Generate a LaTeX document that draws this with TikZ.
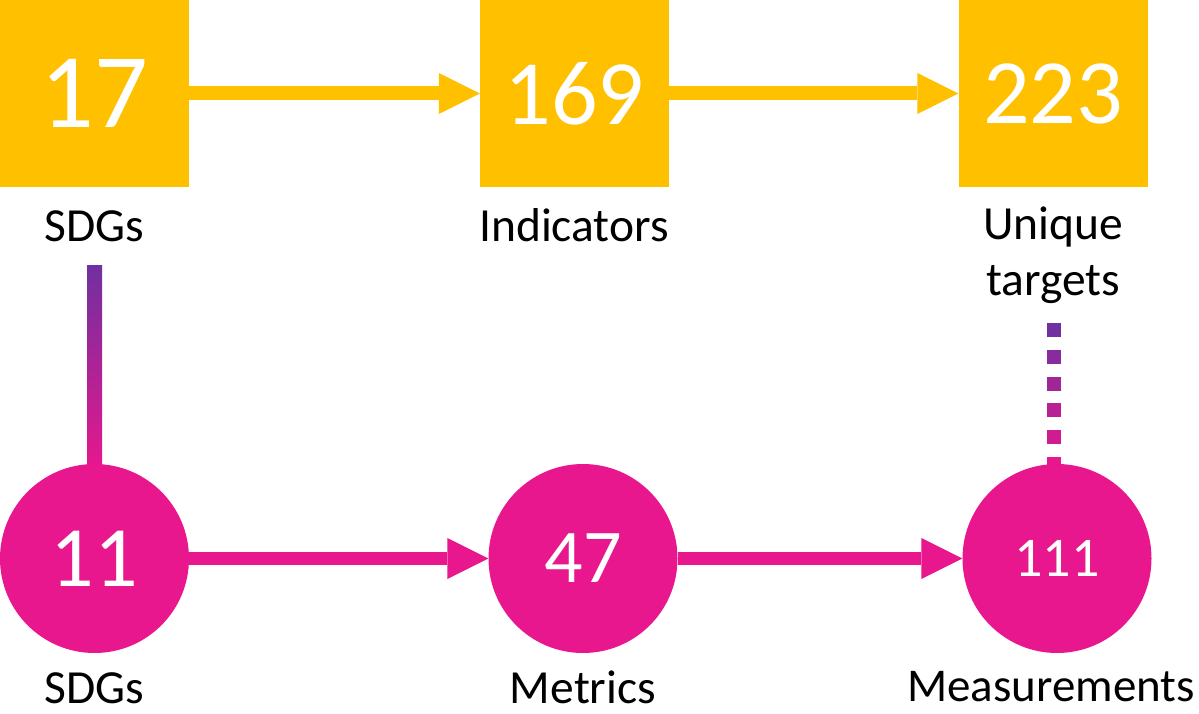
\documentclass[tikz,border=0pt]{standalone}
\usepackage{fontspec}
\setmainfont{Carlito}
\usetikzlibrary{arrows.meta,calc}
\definecolor{gold}{HTML}{FFC000}
\definecolor{pinkc}{HTML}{E8178D}
\definecolor{purplec}{HTML}{7030A0}
\begin{document}
\begin{tikzpicture}[x=1pt,y=-1pt,
  sq/.style={fill=gold, minimum width=189pt, minimum height=187pt, inner sep=0pt, text=white},
  circ/.style={circle, fill=pinkc, minimum size=189pt, inner sep=0pt, text=white},
  lab/.style={anchor=base, font=\fontsize{47.5}{56}\selectfont, inner sep=0pt},
  yarrow/.style={draw=gold, line width=14pt, -{Triangle[length=41pt,width=41pt,line width=0pt]}},
  parrow/.style={draw=pinkc, line width=13pt, -{Triangle[length=41pt,width=41pt,line width=0pt]}}]
\useasboundingbox (0,0) rectangle (1199,714);
% squares
\node[sq, font=\fontsize{106}{110}\selectfont] (s1) at (94.5,93.5) {17};
\node[sq, font=\fontsize{92}{100}\selectfont] (s2) at (574.5,93.5) {169};
\node[sq, font=\fontsize{92}{100}\selectfont] (s3) at (1053,93.5) {223};
% top labels
\node[lab] (l1) at (94,241) {SDGs};
\node[lab] (l2) at (574,241) {Indicators};
\node[lab] (l3) at (1053,240) {Unique};
\node[lab] (l3b) at (1053,295) {targets};
% yellow arrows
\draw[yarrow] (s1) -- (s2);
\draw[yarrow] (s2) -- (s3);
% gradient connectors
\coordinate (g1) at (94.5,265);
\coordinate (g1b) at (94.5,470);
\shade[top color=purplec, bottom color=pinkc] ($(g1)+(-7.5,0)$) rectangle ($(g1b)+(7.5,0)$);
\coordinate (d3) at (1047,323);
\foreach \i in {0,...,5}{
  \pgfmathsetmacro\pp{100*\i/5}
  \fill[pinkc!\pp!purplec] ($(d3)+(0,26.8*\i)$) rectangle ($(d3)+(14,26.8*\i+14)$);
}
% circles
\node[circ, font=\fontsize{86}{90}\selectfont] (c1) at (94.5,558.5) {11};
\node[circ, font=\fontsize{76}{80}\selectfont] (c2) at (583,558.5) {47};
\node[circ, font=\fontsize{56}{60}\selectfont] (c3) at (1057,558.5) {111};
% pink arrows
\draw[parrow] (c1) -- (c2);
\draw[parrow] (c2) -- (c3);
% bottom labels
\node[lab] (b1) at (94,703) {SDGs};
\node[lab] (b2) at (583,703) {Metrics};
\node[lab, font=\fontsize{47}{56}\selectfont] (b3) at (1051,701) {Measurements};
\end{tikzpicture}
\end{document}
